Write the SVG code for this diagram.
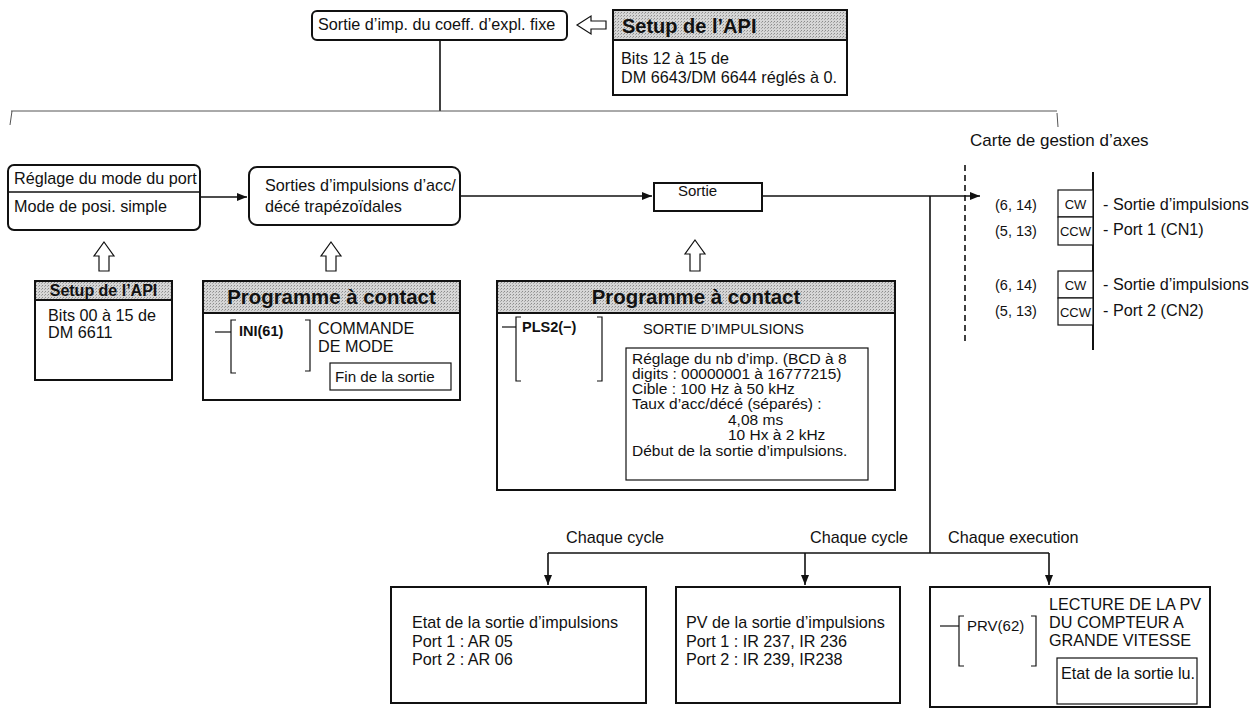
<svg xmlns="http://www.w3.org/2000/svg" width="1256" height="709" viewBox="0 0 1256 709">
  <style>
    text { font-family: "Liberation Sans", Arial, sans-serif; font-size: 16.2px; fill: #111; }
    .hdr { font-weight: bold; }
    .box { fill: #fff; stroke: #111; stroke-width: 2; }
    .thin { fill: #fff; stroke: #111; stroke-width: 1.2; }
    .shade { fill: url(#halftone); stroke: #111; stroke-width: 2; }
    .ln { fill: none; stroke: #111; stroke-width: 1.6; }
    .fl { fill: none; stroke: #111; stroke-width: 1.2; }
    .hollow { fill: #fff; stroke: #111; stroke-width: 1.2; }
    .lad { font-size: 14.5px; }
    .small { font-size: 13px; }
    .dense { font-size: 15.5px; }
  </style>
  <defs>
    <pattern id="halftone" width="3" height="3" patternUnits="userSpaceOnUse">
      <rect width="3" height="3" fill="#d6d6d6"/>
      <rect x="0" y="0" width="1" height="1" fill="#8c8c8c"/>
      <rect x="2" y="1" width="1" height="1" fill="#a8a8a8"/>
    </pattern>
    <marker id="ah" viewBox="0 0 10 8" refX="10" refY="4" markerWidth="10" markerHeight="8" markerUnits="userSpaceOnUse" orient="auto">
      <path d="M0,0 L10,4 L0,8 Z" fill="#111"/>
    </marker>
  </defs>

  <rect width="1256" height="709" fill="#fff"/>

  <!-- connectors -->
  <g id="connectors">
    <line class="ln" x1="440" y1="40" x2="440" y2="111"/>
    <line x1="11" y1="111" x2="1057" y2="111" stroke="#555" stroke-width="1"/>
    <line x1="12" y1="111" x2="10" y2="125" stroke="#555" stroke-width="1"/>
    <line x1="1057" y1="113" x2="1058" y2="127" stroke="#555" stroke-width="1"/>

    <line class="ln" x1="201" y1="197" x2="247" y2="197" marker-end="url(#ah)"/>
    <line class="ln" x1="461" y1="196" x2="652" y2="196" marker-end="url(#ah)"/>
    <line class="ln" x1="763" y1="196" x2="980" y2="196" marker-end="url(#ah)"/>
    <line x1="965" y1="165" x2="965" y2="345" stroke="#111" stroke-width="1.6" stroke-dasharray="6,4"/>
    <line class="ln" x1="930" y1="196" x2="930" y2="553"/>
    <line class="ln" x1="548" y1="553" x2="1049" y2="553"/>
    <line class="ln" x1="548" y1="553" x2="548" y2="585" marker-end="url(#ah)"/>
    <line class="ln" x1="805" y1="553" x2="805" y2="585" marker-end="url(#ah)"/>
    <line class="ln" x1="1049" y1="553" x2="1049" y2="585" marker-end="url(#ah)"/>

    <!-- hollow block arrows -->
    <path class="hollow" d="M577,25 L591,16 V21 H606 V29 H591 V34 Z"/>
    <path class="hollow" d="M104,242 L114,256 H109 V271 H99 V256 H94 Z"/>
    <path class="hollow" d="M331,242 L341,256 H336 V271 H326 V256 H321 Z"/>
    <path class="hollow" d="M695,240 L705,254 H700 V271 H690 V254 H685 Z"/>

    <text x="566" y="543">Chaque cycle</text>
    <text x="810" y="543">Chaque cycle</text>
    <text x="948" y="543">Chaque execution</text>
  </g>

  <!-- top output node -->
  <g id="fixed-output">
    <rect class="box" x="312" y="11" width="255" height="29" rx="5"/>
    <text x="318" y="30">Sortie d’imp. du coeff. d’expl. fixe</text>
  </g>

  <g id="setup-top">
    <rect class="box" x="613" y="10" width="234" height="85"/>
    <rect class="shade" x="613" y="10" width="234" height="30"/>
    <text class="hdr" x="622" y="33" style="font-size:20px">Setup de l’API</text>
    <text x="621" y="64">Bits 12 à 15 de</text>
    <text x="621" y="83">DM 6643/DM 6644 réglés à 0.</text>
  </g>

  <g id="port-mode">
    <rect class="box" x="8" y="165" width="192" height="65" rx="6"/>
    <line class="ln" x1="8" y1="192" x2="200" y2="192"/>
    <text x="14" y="184">Réglage du mode du port</text>
    <text x="14" y="212">Mode de posi. simple</text>
  </g>

  <g id="trapezoid">
    <rect class="box" x="249" y="167" width="211" height="58" rx="8"/>
    <text x="265" y="191">Sorties d’impulsions d’acc/</text>
    <text x="265" y="212">décé trapézoïdales</text>
  </g>

  <g id="output">
    <rect class="box" x="654" y="183" width="108" height="28"/>
    <text x="678" y="196" style="font-size:15px">Sortie</text>
  </g>

  <g id="setup-left">
    <rect class="box" x="35" y="281" width="137" height="99"/>
    <rect class="shade" x="35" y="281" width="137" height="19"/>
    <text class="hdr" x="103.5" y="296" text-anchor="middle" style="font-size:16px">Setup de l’API</text>
    <text x="48" y="321">Bits 00 à 15 de</text>
    <text x="48" y="338">DM 6611</text>
  </g>

  <g id="ladder-ini">
    <rect class="box" x="203" y="281" width="257" height="119"/>
    <rect class="shade" x="203" y="281" width="257" height="32"/>
    <text class="hdr" x="331.5" y="304" text-anchor="middle" style="font-size:20.4px">Programme à contact</text>
    <line class="fl" x1="215" y1="332" x2="231" y2="332"/>
    <path class="fl" d="M236,320 H231 V373 H236"/>
    <path class="fl" d="M305,320 H310 V371 H305"/>
    <text class="lad" x="239" y="336" style="font-weight:bold">INI(61)</text>
    <text x="318" y="334">COMMANDE</text>
    <text x="318" y="352">DE MODE</text>
    <rect class="thin" x="330" y="363" width="121" height="27"/>
    <text x="335" y="382" style="font-size:15.2px">Fin de la sortie</text>
  </g>

  <g id="ladder-pls2">
    <rect class="box" x="497" y="281" width="398" height="209"/>
    <rect class="shade" x="497" y="281" width="398" height="32"/>
    <text class="hdr" x="696" y="304" text-anchor="middle" style="font-size:20.4px">Programme à contact</text>
    <line class="fl" x1="502" y1="327" x2="516" y2="327"/>
    <path class="fl" d="M521,317 H516 V381 H521"/>
    <path class="fl" d="M597,317 H602 V381 H597"/>
    <text class="lad" x="522" y="332" style="font-weight:bold">PLS2(−)</text>
    <text x="643" y="334" style="font-size:14.5px">SORTIE D’IMPULSIONS</text>
    <rect class="thin" x="626" y="348" width="242" height="132"/>
    <text class="dense" x="632" y="364">Réglage du nb d’imp. (BCD à 8</text>
    <text class="dense" x="632" y="379">digits : 00000001 à 16777215)</text>
    <text class="dense" x="632" y="394">Cible : 100 Hz à 50 kHz</text>
    <text class="dense" x="632" y="409">Taux d’acc/décé (séparés) :</text>
    <text class="dense" x="728" y="425">4,08 ms</text>
    <text class="dense" x="728" y="440">10 Hx à 2 kHz</text>
    <text class="dense" x="632" y="456">Début de la sortie d’impulsions.</text>
  </g>

  <g id="motion-card">
    <text x="970" y="146" style="font-size:17px">Carte de gestion d’axes</text>
    <line x1="1093" y1="172" x2="1093" y2="350" stroke="#111" stroke-width="2"/>
    <rect class="thin" x="1058" y="190" width="35" height="27"/>
    <rect class="thin" x="1058" y="217" width="35" height="28"/>
    <rect class="thin" x="1058" y="271" width="35" height="27"/>
    <rect class="thin" x="1058" y="298" width="35" height="27"/>
    <text class="small" x="1075.5" y="209" text-anchor="middle">CW</text>
    <text class="small" x="1075.5" y="236" text-anchor="middle">CCW</text>
    <text class="small" x="1075.5" y="290" text-anchor="middle">CW</text>
    <text class="small" x="1075.5" y="317" text-anchor="middle">CCW</text>
    <text class="lad" x="995" y="210">(6, 14)</text>
    <text class="lad" x="995" y="236">(5, 13)</text>
    <text class="lad" x="995" y="290">(6, 14)</text>
    <text class="lad" x="995" y="316">(5, 13)</text>
    <text x="1103" y="210">- Sortie d’impulsions</text>
    <text x="1103" y="235">- Port 1 (CN1)</text>
    <text x="1103" y="290">- Sortie d’impulsions</text>
    <text x="1103" y="316">- Port 2 (CN2)</text>
  </g>

  <g id="status">
    <rect class="box" x="391" y="587" width="255" height="116"/>
    <text x="412" y="628">Etat de la sortie d’impulsions</text>
    <text x="412" y="647">Port 1 : AR 05</text>
    <text x="412" y="665">Port 2 : AR 06</text>
  </g>

  <g id="pv">
    <rect class="box" x="676" y="587" width="224" height="116"/>
    <text x="686" y="628">PV de la sortie d’impulsions</text>
    <text x="686" y="647">Port 1 : IR 237, IR 236</text>
    <text x="686" y="665">Port 2 : IR 239, IR238</text>
  </g>

  <g id="ladder-prv">
    <rect class="box" x="930" y="587" width="280" height="120"/>
    <line class="fl" x1="940" y1="626" x2="959" y2="626"/>
    <path class="fl" d="M964,616 H959 V666 H964"/>
    <path class="fl" d="M1031,616 H1036 V666 H1031"/>
    <text x="967" y="631" style="font-size:15px">PRV(62)</text>
    <text x="1049" y="610">LECTURE DE LA PV</text>
    <text x="1049" y="628">DU COMPTEUR A</text>
    <text x="1049" y="646">GRANDE VITESSE</text>
    <rect class="thin" x="1057" y="658" width="140" height="46"/>
    <text x="1061" y="679">Etat de la sortie lu.</text>
  </g>
</svg>
